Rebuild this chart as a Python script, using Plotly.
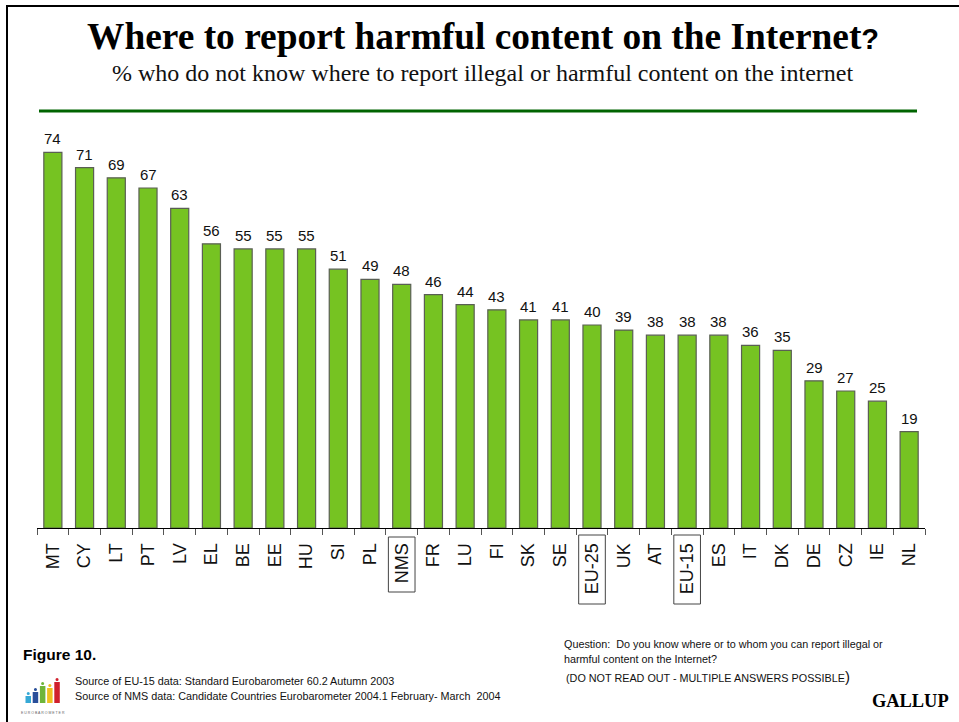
import plotly.graph_objects as go

W, H = 959, 722

countries = ["MT", "CY", "LT", "PT", "LV", "EL", "BE", "EE", "HU", "SI", "PL", "NMS", "FR", "LU",
             "FI", "SK", "SE", "EU-25", "UK", "AT", "EU-15", "ES", "IT", "DK", "DE", "CZ", "IE", "NL"]
dont_know = [74, 71, 69, 67, 63, 56, 55, 55, 55, 51, 49, 48, 46, 44,
             43, 41, 41, 40, 39, 38, 38, 38, 36, 35, 29, 27, 25, 19]
boxed_labels = {"NMS": (537, 592), "EU-25": (535, 604), "EU-15": (535, 604)}

logo_colors = ["#36a9d6", "#2a4f9a", "#6fb53a", "#f0c020", "#d0202c"]
logo_tops = [692, 688, 682, 684, 678]


def px_x(x):
    return x / W


def px_y(y):
    return 1 - y / H


fig = go.Figure(go.Bar(
    x=countries,
    y=dont_know,
    marker=dict(color="#76c322", line=dict(color="#5a5f54", width=1.2)),
    hoverinfo="x+y",
))

shapes = [
    # Page frame: left and top rules
    dict(type="line", xref="paper", yref="paper", x0=px_x(7), x1=px_x(7), y0=0, y1=px_y(5),
         line=dict(color="black", width=2)),
    dict(type="line", xref="paper", yref="paper", x0=px_x(6), x1=1, y0=px_y(6), y1=px_y(6),
         line=dict(color="black", width=2)),
    # Green divider under the heading
    dict(type="line", xref="paper", yref="paper", x0=px_x(39), x1=px_x(917), y0=px_y(111), y1=px_y(111),
         line=dict(color="#006400", width=3)),
]

# Frames around the aggregate labels
for label, (top, bottom) in boxed_labels.items():
    i = countries.index(label)
    shapes.append(dict(type="rect", xref="x", yref="paper", x0=i - 0.42, x1=i + 0.42,
                       y0=px_y(bottom), y1=px_y(top), line=dict(color="#444444", width=1)))

# Eurobarometer mark: small coloured columns with a dot on top
for k, (c, top) in enumerate(zip(logo_colors, logo_tops)):
    left = 25.5 + k * 7.2
    shapes.append(dict(type="rect", xref="paper", yref="paper", x0=px_x(left), x1=px_x(left + 5.5),
                       y0=px_y(703), y1=px_y(top + 4), fillcolor=c, line_width=0))
    shapes.append(dict(type="circle", xref="paper", yref="paper", x0=px_x(left + 1.2), x1=px_x(left + 4.3),
                       y0=px_y(top + 3.1), y1=px_y(top), fillcolor=c, line_width=0))


def note(text, x, y, size, family="Liberation Sans", bold=False, anchor="left", color="#111111"):
    shown = f"<b>{text}</b>" if bold else text
    return dict(text=shown, xref="paper", yref="paper", x=px_x(x), y=px_y(y), xanchor=anchor, yanchor="middle",
                showarrow=False, align=anchor, font=dict(family=family, size=size, color=color))


annotations = [
    note("Where to report harmful content on the Internet<span style='font-size:29px;font-family:Liberation Sans'>?</span>",
         483, 37, 37.4, "Liberation Serif", True, "center", "black"),
    note("% who do not know where to report illegal or harmful content on the internet", 482, 73, 24,
         "Liberation Serif", False, "center"),
    note("Figure 10.", 21, 654, 15.5, bold=True, color="black"),
    note("Source of EU-15 data: Standard Eurobarometer 60.2 Autumn 2003", 73, 681, 10.8),
    note("Source of NMS data: Candidate Countries Eurobarometer 2004.1 February- March  2004", 73, 696, 10.8),
    note("Question:  Do you know where or to whom you can report illegal or", 562, 644, 10.8),
    note("harmful content on the Internet?", 562, 659, 10.8),
    note("(DO NOT READ OUT - MULTIPLE ANSWERS POSSIBLE<span style='font-size:15px'>)</span>", 564, 676, 10.8),
    note("GALLUP", 951, 701, 18.4, "Liberation Serif", True, "right", "black"),
    note("E U R O B A R O M E T E R", 43, 713, 3.5, anchor="center", color="#666666"),
]

# Value labels sit a fixed distance above each bar
for name, value in zip(countries, dont_know):
    annotations.append(dict(x=name, y=value, xref="x", yref="y", text=str(value), showarrow=False,
                            yanchor="bottom", yshift=3,
                            font=dict(family="Liberation Sans", size=15, color="#111111")))

fig.update_layout(
    width=W,
    height=H,
    margin=dict(l=0, r=0, t=0, b=0),
    paper_bgcolor="white",
    plot_bgcolor="white",
    showlegend=False,
    bargap=0.43,
    shapes=shapes,
    annotations=annotations,
    xaxis=dict(
        domain=[px_x(37), px_x(925)],
        type="category",
        tickson="boundaries",
        ticks="outside",
        ticklen=6,
        tickcolor="#555555",
        tickwidth=1,
        tickangle=-90,
        ticklabelstandoff=7,
        tickfont=dict(family="Liberation Sans", size=18, color="#111111"),
        showline=True,
        linecolor="black",
        linewidth=1,
        showgrid=False,
        zeroline=False,
    ),
    yaxis=dict(
        domain=[px_y(528), px_y(122)],
        range=[0, 80],
        visible=False,
        showgrid=False,
        zeroline=False,
    ),
)

fig.write_html("out.html")
